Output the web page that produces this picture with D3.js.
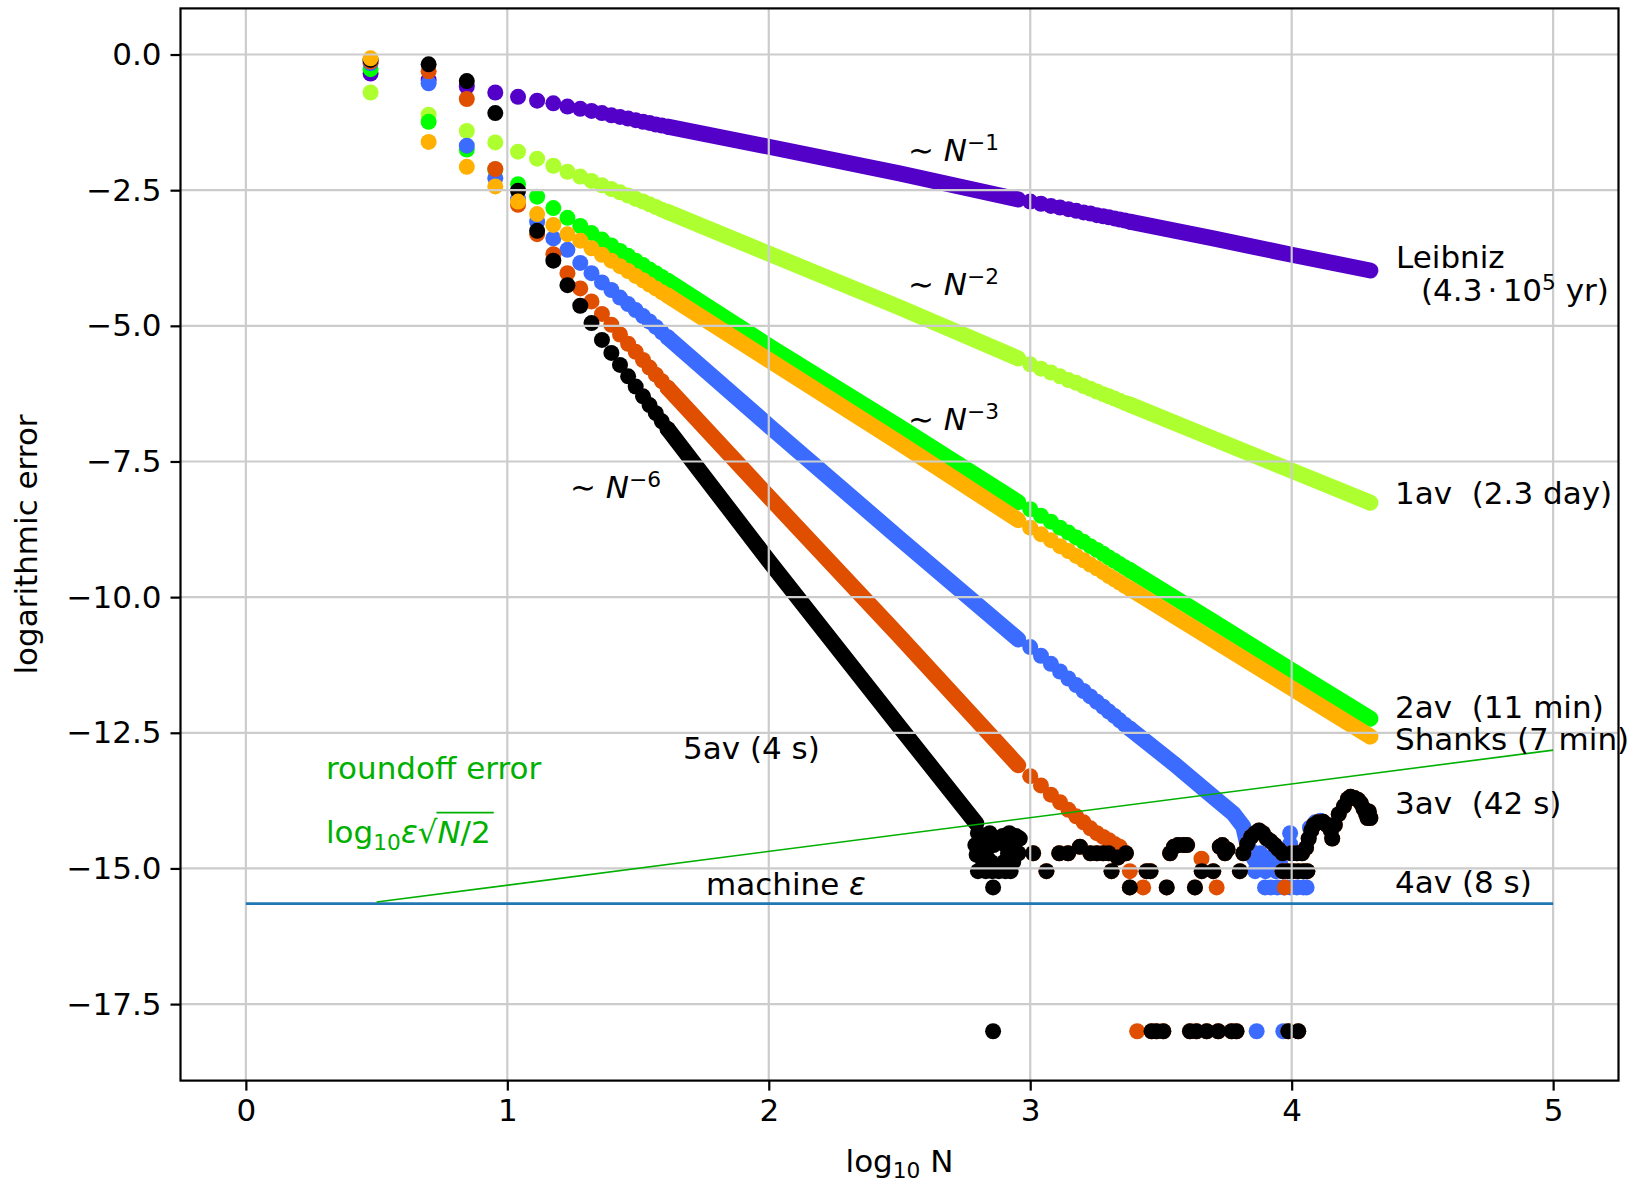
<!DOCTYPE html>
<html><head><meta charset="utf-8">
<script src="https://cdn.jsdelivr.net/npm/d3@7"></script>
<style>
body{margin:0;background:#fff}
svg{display:block}
text{font-family:"DejaVu Sans",sans-serif;white-space:pre}
</style>
</head><body>
<svg id="c" width="1645" height="1185" xmlns="http://www.w3.org/2000/svg"></svg>
<script>
// ---------------- data ----------------
// x = log10 N for the individually visible dots (odd N = 3..41)
const logNEarly = [0.477,0.699,0.845,0.954,1.041,1.114,1.176,1.230,1.279,1.322,1.362,1.398,1.431,1.462,1.491,1.519,1.544,1.568,1.591,1.613];
// x = log10 N for the visible dots of the second run (N = 1000..2400 step 100)
const logNMid = [3.000,3.041,3.079,3.114,3.146,3.176,3.204,3.230,3.255,3.279,3.301,3.322,3.342,3.362,3.380];

// Leibniz
const leibnizEarly = [-0.35,-0.47,-0.59,-0.70,-0.78,-0.85,-0.90,-0.96,-1.00,-1.04,-1.08,-1.12,-1.15,-1.18,-1.21,-1.24,-1.26,-1.29,-1.31,-1.33];
const leibnizBand1 = [[1.613,-1.33],[2.0,-1.70],[2.5,-2.19],[2.954,-2.67]];
const leibnizMid = [-2.71,-2.75,-2.79,-2.82,-2.85,-2.88,-2.91,-2.93,-2.96,-2.98,-3.00,-3.02,-3.04,-3.06,-3.08];
const leibnizBand2 = [[3.380,-3.08],[3.7,-3.39],[4.0,-3.69],[4.301,-3.98]];

// 1av
const av1Early = [-0.70,-1.11,-1.41,-1.62,-1.79,-1.92,-2.05,-2.16,-2.25,-2.33,-2.41,-2.48,-2.54,-2.60,-2.66,-2.71,-2.76,-2.81,-2.86,-2.90];
const av1Band1 = [[1.613,-2.90],[2.0,-3.67],[2.5,-4.66],[2.954,-5.60]];
const av1Mid = [-5.71,-5.79,-5.86,-5.93,-6.00,-6.05,-6.11,-6.16,-6.21,-6.26,-6.30,-6.34,-6.38,-6.42,-6.45];
const av1Band2 = [[3.380,-6.45],[3.7,-7.08],[4.0,-7.67],[4.301,-8.26]];

// 2av
const av2Early = [-0.27,-1.24,-1.75,-2.12,-2.39,-2.62,-2.83,-3.01,-3.16,-3.29,-3.41,-3.52,-3.62,-3.71,-3.80,-3.88,-3.96,-4.03,-4.10,-4.17];
const av2Band1 = [[1.613,-4.17],[2.0,-5.37],[2.5,-6.86],[2.954,-8.25]];
const av2Mid = [-8.38,-8.50,-8.61,-8.72,-8.81,-8.90,-8.98,-9.06,-9.13,-9.20,-9.27,-9.33,-9.39,-9.45,-9.50];
const av2Band2 = [[3.380,-9.50],[3.7,-10.45],[4.0,-11.35],[4.301,-12.24]];

// Shanks
const shanksEarly = [-0.07,-1.61,-2.07,-2.43,-2.71,-2.94,-3.14,-3.31,-3.43,-3.57,-3.69,-3.80,-3.90,-3.99,-4.08,-4.16,-4.24,-4.31,-4.38,-4.44];
const shanksBand1 = [[1.613,-4.44],[2.0,-5.63],[2.5,-7.16],[2.954,-8.58]];
const shanksMid = [-8.72,-8.84,-8.95,-9.06,-9.15,-9.24,-9.32,-9.40,-9.47,-9.54,-9.61,-9.67,-9.73,-9.79,-9.84];
const shanksBand2 = [[3.380,-9.84],[3.7,-10.79],[4.0,-11.68],[4.301,-12.57]];

// 3av
const av3Early = [-0.16,-0.53,-1.68,-2.28,-2.66,-3.08,-3.39,-3.60,-3.84,-4.03,-4.20,-4.34,-4.48,-4.60,-4.71,-4.82,-4.92,-5.02,-5.12,-5.21];
const av3Band1 = [[1.613,-5.21],[2.0,-6.84],[2.5,-8.92],[2.954,-10.78]];
const av3Mid = [-10.92,-11.08,-11.23,-11.37,-11.50,-11.62,-11.73,-11.83,-11.93,-12.02,-12.11,-12.19,-12.27,-12.35,-12.42];
const av3Band2 = [[3.380,-12.42],[3.547,-13.06],[3.700,-13.68],[3.777,-13.99],[3.815,-14.23],[3.830,-14.55],[3.853,-14.79],[3.879,-15.00]];
const av3Floor = [[3.86,-15.05],[3.88,-14.72],[3.90,-15.05],[3.92,-14.80],[3.94,-15.05],[3.955,-14.88],[3.975,-15.05],[3.994,-14.35],[3.994,-14.55],[3.994,-14.72],
  [3.898,-15.35],[3.92,-15.35],[3.945,-15.35],[3.97,-15.35],[3.995,-15.35],[4.02,-15.35],[4.045,-15.35],[4.057,-15.35],
  [4.07,-14.25],[4.09,-14.15],[4.11,-14.12],[4.14,-14.20],[3.866,-18.0],[3.968,-18.0]];

// 4av
const av4Early = [-0.13,-0.31,-0.82,-2.11,-2.77,-3.31,-3.68,-4.03,-4.31,-4.55,-4.78,-4.98,-5.16,-5.33,-5.48,-5.63,-5.77,-5.90,-6.02,-6.14];
const av4Band1 = [[1.613,-6.14],[2.0,-8.15],[2.5,-10.72],[2.954,-13.10]];
const av4Mid = [-13.30,-13.47,-13.64,-13.78,-13.92,-14.04,-14.15,-14.26,-14.35,-14.42,-14.48,-14.55,-14.60,-14.72,null];
const av4Floor = [[3.381,-15.05],[3.409,-18.0],[3.432,-15.35],[3.655,-14.82],[3.713,-15.35],[3.974,-15.35]];

// 5av
const av5Early = [-0.10,-0.18,-0.49,-1.08,-2.51,-3.25,-3.80,-4.25,-4.63,-4.95,-5.26,-5.50,-5.72,-5.93,-6.12,-6.30,-6.46,-6.61,-6.76,-6.90];
const av5Band1 = [[1.613,-6.90],[2.0,-9.33],[2.5,-12.39],[2.794,-14.17]];
const av5Floor = [[2.80,-14.35],[2.82,-14.40],[2.845,-14.35],[2.87,-14.45],[2.895,-14.40],[2.92,-14.35],[2.945,-14.40],[2.79,-14.57],[2.81,-14.65],[2.795,-14.75],
  [2.82,-14.88],[2.80,-15.05],[2.83,-15.05],[2.855,-15.05],[2.88,-15.05],[2.905,-15.05],[2.925,-15.05],[2.84,-14.60],[2.835,-14.80],[2.85,-14.88],
  [2.86,-14.57],[2.905,-14.57],[2.915,-14.72],[2.90,-14.88],[2.93,-14.65],[2.935,-14.88],[2.955,-14.72],[2.858,-15.35],[2.96,-14.45],[2.858,-18.0]];
// floor values shared by 4av and 5av (5av drawn on top)
const sharedFloor = [[3.011,-14.72],[3.062,-15.05],[3.111,-14.72],[3.145,-14.72],[3.19,-14.60],[3.23,-14.72],[3.255,-14.72],[3.279,-14.72],[3.30,-14.72],[3.311,-15.05],
  [3.335,-14.80],[3.366,-14.72],[3.381,-15.35],[3.445,-15.05],[3.46,-15.05],[3.464,-18.0],[3.483,-18.0],[3.509,-18.0],[3.522,-15.35],[3.535,-14.72],
  [3.55,-14.60],[3.565,-14.57],[3.585,-14.57],[3.60,-14.57],[3.611,-18.0],[3.63,-15.35],[3.636,-18.0],[3.656,-15.05],[3.675,-18.0],[3.70,-15.05],
  [3.719,-18.0],[3.725,-14.60],[3.735,-14.57],[3.745,-14.72],[3.755,-14.65],[3.77,-18.0],[3.789,-18.0],[3.802,-15.05],[3.815,-14.72],[3.83,-14.55],
  [3.845,-14.42],[3.86,-14.35],[3.875,-14.30],[3.89,-14.35],[3.905,-14.45],[3.92,-14.50],[3.935,-14.57],[3.95,-14.65],[3.965,-14.72],[3.965,-15.05],
  [3.987,-18.0],[3.985,-15.05],[4.005,-15.05],[4.025,-18.0],[4.025,-15.05],[4.045,-15.05],[4.06,-15.05],[4.00,-14.72],[4.02,-14.72],[4.04,-14.72],
  [4.055,-14.62],[4.065,-14.45],[4.075,-14.30],[4.085,-14.20],[4.10,-14.15],[4.12,-14.14],[4.135,-14.20],[4.15,-14.30],[4.155,-14.45],[4.165,-14.20],
  [4.18,-14.00],[4.20,-13.85],[4.215,-13.72],[4.225,-13.68],[4.24,-13.70],[4.255,-13.74],[4.265,-13.80],[4.275,-13.90],[4.285,-14.00],[4.29,-14.07],
  [4.295,-13.95],[4.301,-14.07]];

// reference lines
const machineEps = [[0,-15.65],[5,-15.65]];
const roundoff = [[0.5,-15.62],[5,-12.82]];

// ticks
const xTicks = [0,1,2,3,4,5];
const xTickLabels = ["0","1","2","3","4","5"];
const yTicks = [0,-2.5,-5,-7.5,-10,-12.5,-15,-17.5];
const yTickLabels = ["0.0","\u22122.5","\u22125.0","\u22127.5","\u221210.0","\u221212.5","\u221215.0","\u221217.5"];

// ---------------- drawing ----------------
const svg = d3.select("#c");
const L = 180.5, Rr = 1618.5, T = 8.4, B = 1080.6;
const X = d3.scaleLinear().domain([-0.25,5.25]).range([L,Rr]);
const Y = d3.scaleLinear().domain([-18.91,0.85]).range([B,T]);
const R = 8.0;
const FS = 31, TFS = 31;

svg.append("defs").append("clipPath").attr("id","clip")
  .append("rect").attr("x",L).attr("y",T).attr("width",Rr-L).attr("height",B-T);

const zip = (xs, ys) => xs.map((x,i)=>[x, ys[i]]).filter(d=>d[1]!==null && d[1]!==undefined);

const series = [
  {color:"#5300c9", pts: zip(logNEarly,leibnizEarly).concat(zip(logNMid,leibnizMid)), bands:[leibnizBand1,leibnizBand2]},
  {color:"#adff2f", pts: zip(logNEarly,av1Early).concat(zip(logNMid,av1Mid)), bands:[av1Band1,av1Band2]},
  {color:"#00ff00", pts: zip(logNEarly,av2Early).concat(zip(logNMid,av2Mid)), bands:[av2Band1,av2Band2]},
  {color:"#3b6cff", pts: zip(logNEarly,av3Early).concat(zip(logNMid,av3Mid)).concat(av3Floor), bands:[av3Band1,av3Band2]},
  {color:"#e04e00", pts: zip(logNEarly,av4Early).concat(zip(logNMid,av4Mid)).concat(av4Floor).concat(sharedFloor), bands:[av4Band1]},
  {color:"#000000", pts: zip(logNEarly,av5Early).concat(av5Floor).concat(sharedFloor), bands:[av5Band1]},
  {color:"#ffb000", pts: zip(logNEarly,shanksEarly).concat(zip(logNMid,shanksMid)), bands:[shanksBand1,shanksBand2]}
];

const line = d3.line().x(d=>X(d[0])).y(d=>Y(d[1]));
const gData = svg.append("g").attr("clip-path","url(#clip)");
series.forEach(s=>{
  const g = gData.append("g");
  s.bands.forEach(b=>{
    g.append("path").attr("d",line(b)).attr("fill","none").attr("stroke",s.color)
      .attr("stroke-width",2*R).attr("stroke-linecap","round").attr("stroke-linejoin","round");
  });
  g.selectAll("circle").data(s.pts).join("circle")
    .attr("cx",d=>X(d[0])).attr("cy",d=>Y(d[1])).attr("r",R).attr("fill",s.color);
});

// grid (drawn above the scatter, as in the reference)
const gGrid = svg.append("g");
gGrid.selectAll("line.gx").data(xTicks).join("line").attr("class","gx")
  .attr("x1",d=>X(d)).attr("x2",d=>X(d)).attr("y1",T).attr("y2",B)
  .attr("stroke","#cccccc").attr("stroke-width",2.2);
gGrid.selectAll("line.gy").data(yTicks).join("line").attr("class","gy")
  .attr("y1",d=>Y(d)).attr("y2",d=>Y(d)).attr("x1",L).attr("x2",Rr)
  .attr("stroke","#cccccc").attr("stroke-width",2.2);

// reference lines
svg.append("path").attr("d",line(machineEps)).attr("stroke","#1f77b4").attr("stroke-width",2.8).attr("fill","none");
svg.append("path").attr("d",line(roundoff)).attr("stroke","#00b000").attr("stroke-width",1.6).attr("fill","none");

// axes
const xAxis = d3.axisBottom(X).tickValues(xTicks).tickFormat((d,i)=>xTickLabels[i]).tickSize(10).tickPadding(8);
const yAxis = d3.axisLeft(Y).tickValues(yTicks).tickFormat((d,i)=>yTickLabels[i]).tickSize(10).tickPadding(9);
const gx = svg.append("g").attr("transform",`translate(0,${B})`).call(xAxis);
const gy = svg.append("g").attr("transform",`translate(${L},0)`).call(yAxis);
[gx,gy].forEach(g=>{
  g.select(".domain").remove();
  g.selectAll(".tick line").attr("stroke","#000").attr("stroke-width",2.2);
  g.selectAll(".tick text").attr("font-size",TFS).attr("fill","#000").attr("font-family","DejaVu Sans");
});
svg.append("rect").attr("x",L).attr("y",T).attr("width",Rr-L).attr("height",B-T)
  .attr("fill","none").attr("stroke","#000").attr("stroke-width",2.2);

// axis labels
const xl = svg.append("text").attr("x",(L+Rr)/2).attr("y",1172).attr("text-anchor","middle").attr("font-size",FS);
xl.append("tspan").text("log");
xl.append("tspan").attr("font-size",FS*0.7).attr("dy",FS*0.18).text("10");
xl.append("tspan").attr("dy",-FS*0.18).text(" N");
svg.append("text").attr("transform",`translate(37,${(T+B)/2}) rotate(-90)`).attr("text-anchor","middle")
  .attr("font-size",FS).text("logarithmic error");

// annotations
function rich(x, y, parts, color) {
  const t = svg.append("text").attr("x",x).attr("y",y).attr("font-size",FS).attr("fill",color||"#000");
  let shift = 0;
  parts.forEach(p=>{
    const sp = t.append("tspan");
    let target = 0;
    if (p.sup) target = -FS*0.36;
    if (p.sub) target = FS*0.22;
    sp.attr("dy", target - shift); shift = target;
    if (p.sup || p.sub) sp.attr("font-size",FS*0.7);
    if (p.it) sp.attr("font-style","italic");
    sp.text(p.t);
  });
  return t;
}
const powerLabels = [
  {x:908, y:161, p:"\u22121"},
  {x:908, y:295, p:"\u22122"},
  {x:908, y:430, p:"\u22123"},
  {x:570, y:498, p:"\u22126"}
];
powerLabels.forEach(d=>rich(d.x,d.y,[{t:"\u223C "},{t:"N",it:true},{t:d.p,sup:true}]));

rich(1396,268,[{t:"Leibniz"}]);
rich(1421,301,[{t:"(4.3"},{t:"\u2006\u00B7\u2006"},{t:"10"},{t:"5",sup:true},{t:" yr)"}]);
rich(1395,504,[{t:"1av  (2.3 day)"}]);
rich(1395,718,[{t:"2av  (11 min)"}]);
rich(1395,750,[{t:"Shanks (7 min)"}]);
rich(1395,814,[{t:"3av  (42 s)"}]);
rich(1395,893,[{t:"4av (8 s)"}]);
rich(683,759,[{t:"5av (4 s)"}]);
rich(706,895,[{t:"machine "},{t:"\u03B5",it:true}]);
rich(326,779,[{t:"roundoff error"}],"#00b000");
const f = rich(326,843,[{t:"log"},{t:"10",sub:true},{t:"\u03B5",it:true},{t:"\u221A"},{t:"N",it:true},{t:"/2"}],"#00b000");
// vinculum of the square root
const tsp = f.selectAll("tspan").nodes();
const node = f.node();
const nStart = node.getStartPositionOfChar(tsp[0].textContent.length + tsp[1].textContent.length + tsp[2].textContent.length + tsp[3].textContent.length);
const endPos = node.getEndPositionOfChar(node.getNumberOfChars()-1);
svg.append("line").attr("x1",nStart.x-1).attr("x2",endPos.x+3).attr("y1",843-FS*0.98).attr("y2",843-FS*0.98)
  .attr("stroke","#00b000").attr("stroke-width",1.6);
</script>
</body></html>
